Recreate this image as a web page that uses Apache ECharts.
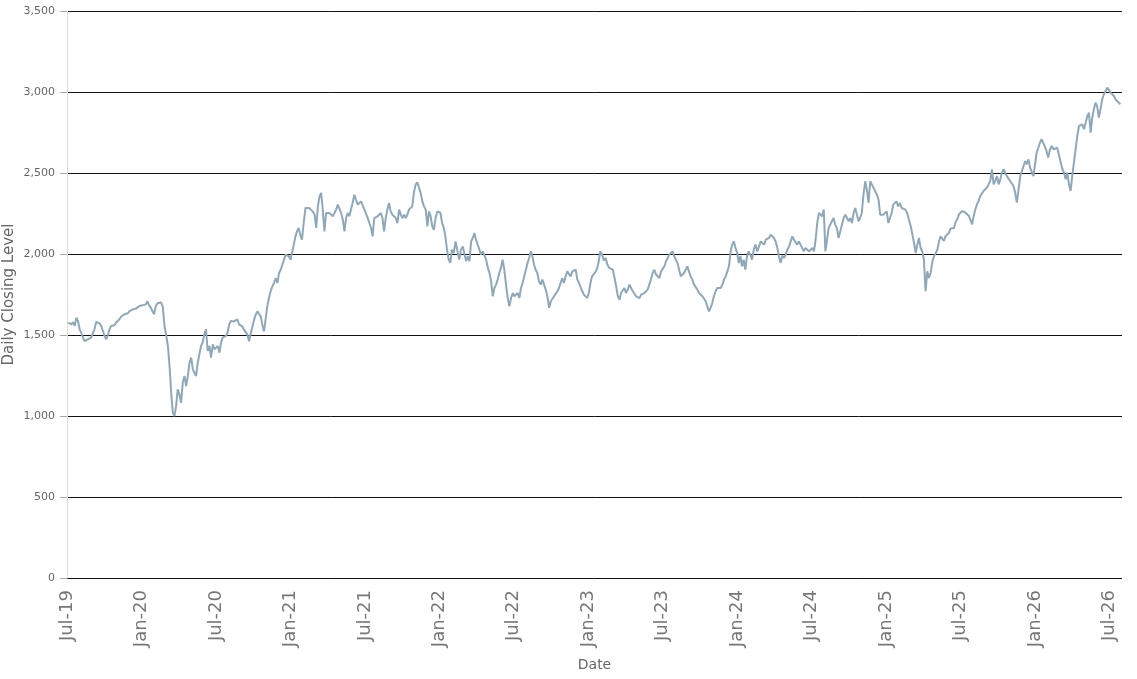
<!DOCTYPE html>
<html>
<head>
<meta charset="utf-8">
<script src="https://cdn.jsdelivr.net/npm/echarts@6/dist/echarts.min.js"></script>
<style>
  html, body { margin: 0; padding: 0; background: #fff; }
  #closingChart { width: 1137px; height: 679px; }
</style>
</head>
<body>
<div id="closingChart"></div>
<script>
const firstClose = Date.UTC(2019, 6, 4)
const stepDays = 4.084

const closes2019 = [
  1576, 1586, 1566, 1580, 1556, 1607, 1586, 1535, 1514, 1484,
  1463, 1453, 1473, 1469, 1484, 1490, 1535, 1580, 1586, 1572,
  1556, 1525, 1494, 1473, 1498, 1535, 1556, 1545, 1560, 1576,
  1586, 1597, 1613, 1601, 1628, 1638, 1634, 1648, 1644, 1658,
  1654, 1663, 1669, 1679, 1671
]
const closes2020 = [
  1683, 1675, 1689, 1708, 1683,
  1669, 1648, 1628, 1679, 1696, 1689, 1700, 1675, 1556, 1494,
  1432, 1309, 1144, 1020, 1000, 1062, 1165, 1134, 1082, 1206,
  1247, 1185, 1247, 1329, 1360, 1288, 1267, 1247, 1329, 1381,
  1432, 1453, 1504, 1535, 1401, 1432, 1360, 1442, 1412, 1401,
  1432, 1391, 1453, 1484, 1473, 1494, 1514, 1566, 1586, 1580,
  1584, 1590, 1597, 1566, 1575, 1553, 1533, 1523, 1502, 1461,
  1512, 1553, 1595, 1625, 1646, 1656, 1615, 1564, 1523, 1595,
  1677, 1728, 1770, 1800, 1821, 1852, 1821, 1883, 1903, 1934,
  1965, 1996, 2006, 1986
]
const closes2021 = [
  1965, 1955, 2058, 2109, 2140, 2161,
  2119, 2088, 2191, 2284, 2294, 2284, 2274, 2263, 2243, 2161,
  2294, 2356, 2377, 2274, 2140, 2253, 2263, 2253, 2243, 2233,
  2253, 2274, 2305, 2294, 2253, 2212, 2140, 2222, 2253, 2233,
  2274, 2315, 2366, 2335, 2305, 2315, 2325, 2315, 2274, 2263,
  2222, 2233, 2161, 2109, 2222, 2228, 2233, 2243, 2253, 2222,
  2140, 2222, 2274, 2315, 2263, 2243, 2253, 2222, 2191, 2274,
  2243, 2222, 2243, 2222, 2243, 2274, 2263, 2294, 2380, 2428,
  2442, 2410, 2377, 2325, 2294, 2274, 2171, 2263, 2233, 2171,
  2150, 2222, 2263, 2274
]
const closes2022 = [
  2253, 2191, 2161, 2109, 2027, 1965,
  1945, 2027, 2006, 2078, 2068, 1965, 2027, 2047, 1996, 1955,
  1986, 1955, 2078, 2099, 2130, 2088, 2078, 2027, 1996, 2016,
  2027, 1965, 1914, 1883, 1831, 1739, 1790, 1811, 1842, 1883,
  1914, 1965, 1903, 1811, 1728, 1677, 1728, 1759, 1739, 1728,
  1759, 1728, 1790, 1821, 1862, 1903, 1944, 1975, 2016, 1986,
  1934, 1903, 1883, 1831, 1811, 1842, 1811, 1780, 1739, 1667,
  1708, 1697, 1739, 1728, 1770, 1790, 1821, 1852, 1821, 1862,
  1893, 1883, 1862, 1893, 1883, 1903, 1842, 1821, 1811, 1770,
  1749, 1739, 1728
]
const closes2023 = [
  1759, 1821, 1862, 1875, 1888, 1908, 1950,
  2016, 1996, 1960, 1975, 1934, 1914, 1924, 1903, 1852, 1800,
  1739, 1718, 1759, 1770, 1790, 1759, 1780, 1811, 1790, 1770,
  1759, 1739, 1749, 1728, 1749, 1739, 1759, 1770, 1780, 1811,
  1842, 1883, 1903, 1873, 1883, 1852, 1893, 1903, 1924, 1955,
  1975, 1996, 2006, 2016, 1986, 1975, 1944, 1903, 1862, 1852,
  1883, 1903, 1924, 1893, 1862, 1842, 1811, 1800, 1780, 1759,
  1770, 1739, 1728, 1708, 1677, 1646, 1667, 1697, 1739, 1770,
  1790, 1800, 1790, 1811, 1842, 1862, 1893, 1924, 2016, 2058,
  2078, 2037, 2006
]
const closes2024 = [
  1944, 1986, 1924, 1965, 1903, 1986, 2016,
  1996, 1965, 2027, 2058, 2016, 2047, 2078, 2068, 2058, 2088,
  2078, 2099, 2119, 2130, 2099, 2078, 2040, 1985, 1944, 1990,
  1975, 1996, 2027, 2047, 2078, 2109, 2088, 2078, 2058, 2078,
  2068, 2037, 2016, 2037, 2047, 2016, 2027, 2037, 2016, 2088,
  2191, 2253, 2263, 2233, 2274, 2016, 2088, 2161, 2171, 2202,
  2222, 2181, 2161, 2099, 2140, 2181, 2222, 2243, 2233, 2202,
  2222, 2191, 2253, 2284, 2243, 2202, 2222, 2253, 2366, 2449,
  2397, 2315, 2449, 2428, 2407, 2387, 2366, 2335, 2243, 2233,
  2243, 2253
]
const closes2025 = [
  2263, 2191, 2202, 2253, 2305, 2305, 2325, 2294,
  2315, 2284, 2294, 2274, 2253, 2212, 2171, 2119, 2068, 2006,
  2058, 2099, 2037, 2016, 1965, 1770, 1893, 1852, 1883, 1955,
  1986, 2006, 2027, 2078, 2109, 2099, 2080, 2110, 2110, 2130,
  2156, 2150, 2160, 2197, 2214, 2245, 2235, 2265, 2276, 2255,
  2265, 2235, 2224, 2183, 2235, 2276, 2307, 2327, 2358, 2368,
  2389, 2379, 2409, 2430, 2451, 2523, 2430, 2451, 2481, 2430,
  2461, 2502, 2523, 2523, 2481, 2481, 2451, 2451, 2420, 2379,
  2317, 2399, 2481, 2512, 2523, 2574, 2554, 2584, 2533, 2523,
  2481, 2554
]
const closes2026 = [
  2626, 2656, 2687, 2708, 2687, 2677, 2636, 2595,
  2646, 2667, 2646, 2656, 2656, 2646, 2564, 2523, 2502, 2461,
  2502, 2430, 2389, 2481, 2564, 2646, 2728, 2790, 2780, 2800,
  2770, 2811, 2852, 2872, 2749, 2842, 2893, 2934, 2914, 2842,
  2893, 2955, 2986, 3006, 3027, 3017, 2996, 3006, 2975, 2955,
  2965, 2934, 2924
]

const tickLabels = ['Jul-19', 'Jan-20', 'Jul-20', 'Jan-21', 'Jul-21', 'Jan-22', 'Jul-22', 'Jan-23',
  'Jul-23', 'Jan-24', 'Jul-24', 'Jan-25', 'Jul-25', 'Jan-26', 'Jul-26']

const closes = [].concat(closes2019, closes2020, closes2021, closes2022,
  closes2023, closes2024, closes2025, closes2026)

// months since 1 Jul 2019, so the axis can tick every 6 calendar months
const monthIndex = (t) => {
  const d = new Date(t)
  const y = d.getUTCFullYear()
  const m = d.getUTCMonth()
  const start = Date.UTC(y, m, 1)
  const next = Date.UTC(y, m + 1, 1)
  return (y - 2019) * 12 + (m - 6) + (t - start) / (next - start)
}

const dayMs = 24 * 3600 * 1000
const seriesData = closes.map((v, i) => [monthIndex(firstClose + i * stepDays * dayMs), v])

const closingChart = echarts.init(document.getElementById('closingChart'))
const closingOption = {
  animation: false,
  textStyle: { fontFamily: 'DejaVu Sans' },
  grid: { left: 67, right: 15, top: 11, bottom: 101, containLabel: false, outerBoundsMode: 'none' },
  xAxis: {
    type: 'value',
    min: 0,
    max: 85,
    interval: 6,
    name: 'Date',
    nameLocation: 'middle',
    nameGap: 80,
    nameMoveOverlap: false,
    nameTextStyle: { color: '#666', fontSize: 14 },
    axisLine: { show: false },
    axisTick: { show: false },
    splitLine: { show: false },
    axisLabel: {
      rotate: 90,
      margin: 12,
      color: '#777',
      fontSize: 18,
      showMaxLabel: false,
      formatter: (v) => tickLabels[v / 6] || ''
    }
  },
  yAxis: {
    type: 'value',
    min: 0,
    max: 3500,
    interval: 500,
    name: 'Daily Closing Level',
    nameLocation: 'middle',
    nameGap: 50,
    nameMoveOverlap: false,
    nameTextStyle: { color: '#666', fontSize: 15 },
    axisLine: { show: true, lineStyle: { color: '#ddd' } },
    axisTick: { show: true, length: 7, lineStyle: { color: '#aaa' } },
    axisLabel: {
      margin: 12,
      color: '#666',
      fontSize: 11,
      formatter: (v) => v.toLocaleString('en-US')
    },
    splitLine: { show: true, lineStyle: { color: '#111', width: 1 } }
  },
  series: [
    {
      name: 'Daily Closing Level',
      type: 'line',
      showSymbol: false,
      data: seriesData,
      lineStyle: { color: '#8fa8b8', width: 2 },
      z: 3
    }
  ]
}
closingChart.setOption(closingOption)
</script>
</body>
</html>
